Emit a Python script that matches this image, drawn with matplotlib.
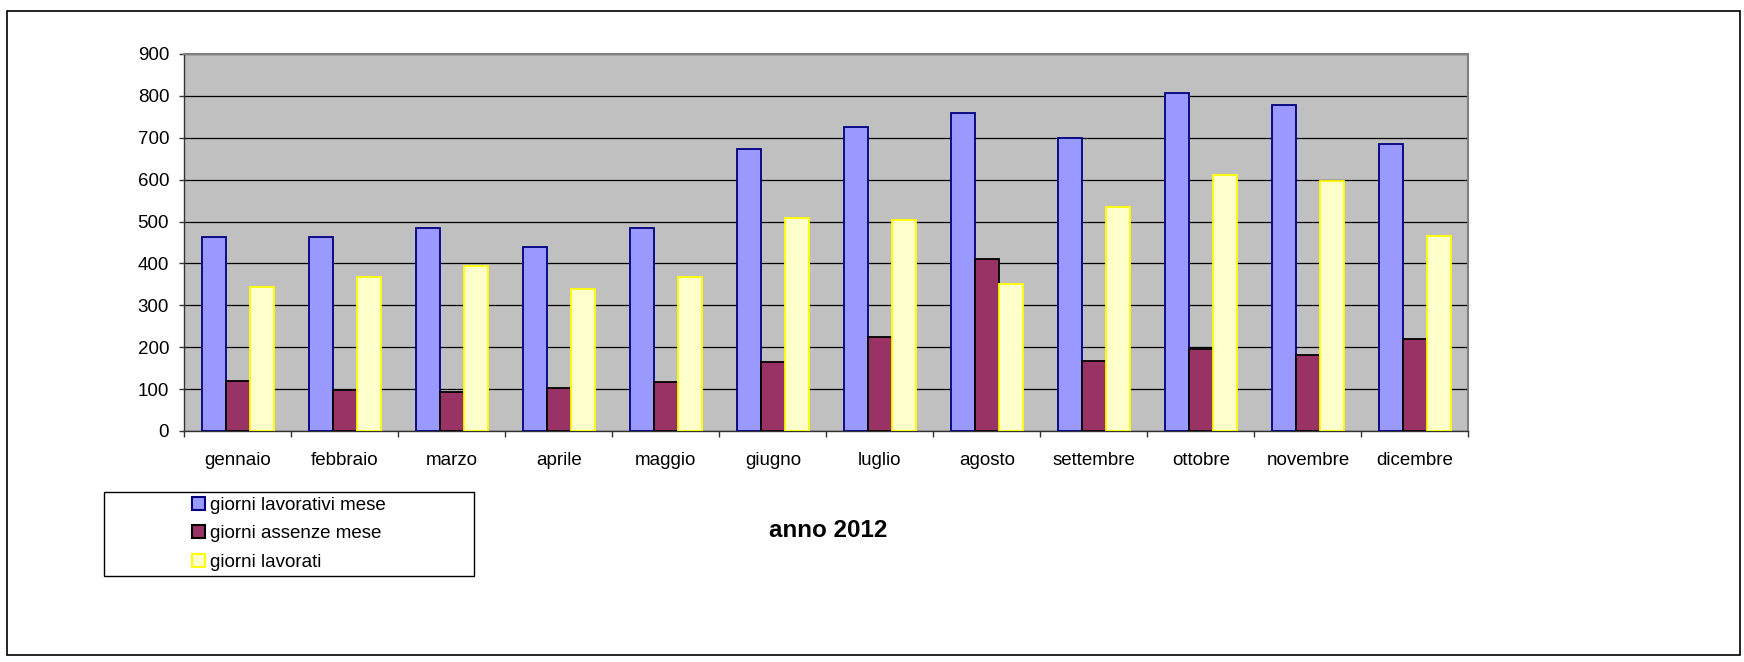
import numpy as np
import matplotlib
matplotlib.use("Agg")
import matplotlib.pyplot as plt
from matplotlib.patches import Rectangle

plt.rcParams['font.family'] = ['Liberation Sans', 'DejaVu Sans']

# dati
mesi = ["gennaio", "febbraio", "marzo", "aprile", "maggio", "giugno",
        "luglio", "agosto", "settembre", "ottobre", "novembre", "dicembre"]
giorni_lavorativi = [463, 463, 484, 440, 484, 672, 726, 759, 700, 806, 777, 684]
giorni_assenze = [120, 97, 93, 102, 118, 165, 225, 411, 168, 195, 181, 220]
giorni_lavorati = [343, 367, 393, 339, 367, 509, 503, 350, 534, 611, 596, 466]
y_ticks = [0, 100, 200, 300, 400, 500, 600, 700, 800, 900]

serie = [
    ("giorni lavorativi mese", giorni_lavorativi, "#9999FF", "#000080"),
    ("giorni assenze mese", giorni_assenze, "#993366", "#000000"),
    ("giorni lavorati", giorni_lavorati, "#FFFFCC", "#FFFF00"),
]

fig = plt.figure(figsize=(17.44, 6.62), dpi=100)
ax = fig.add_axes([0.1057, 0.349, 0.7363, 0.5695])
ax.set_facecolor("#C0C0C0")

x = np.arange(len(mesi))
w = 1 / 4.5
handles = []
for i, (nome, valori, fc, ec) in enumerate(serie):
    ax.bar(x + (i - 1) * w, valori, width=w, color=fc, edgecolor=ec,
           linewidth=1.3, zorder=3)
    handles.append(Rectangle((0, 0), 1, 1, facecolor=fc, edgecolor=ec,
                             linewidth=1.5, label=nome))

ax.set_xlim(-0.5, len(mesi) - 0.5)
ax.set_ylim(0, 900)
ax.set_yticks(y_ticks)
ax.set_yticklabels([str(v) for v in y_ticks], fontsize=13.5)
ax.yaxis.grid(True, color="black", linewidth=0.9, zorder=1)
ax.set_axisbelow(True)

ax.set_xticks(x)
ax.set_xticklabels(mesi, fontsize=13.5)
ax.set_xticks(np.arange(len(mesi) + 1) - 0.5, minor=True)
ax.tick_params(axis="x", which="major", length=0, pad=15)
ax.tick_params(axis="x", which="minor", length=4.3, width=1, color="#333333")
ax.tick_params(axis="y", length=3.9, width=1, pad=7, color="#333333")

for s in ["top", "right"]:
    ax.spines[s].set_color("#808080")
    ax.spines[s].set_linewidth(1.5)
ax.spines["left"].set_color("#333333")
ax.spines["bottom"].set_color("#333333")
ax.spines["left"].set_linewidth(1)
ax.spines["bottom"].set_linewidth(1)

# legenda con cornice
fig.patches.append(Rectangle((0.0598, 0.130), 0.2118, 0.127, transform=fig.transFigure,
                             facecolor="white", edgecolor="black", linewidth=1, zorder=1))
fig.legend(handles=handles, loc="center", bbox_to_anchor=(0.1657, 0.1935),
           frameon=False, fontsize=13.5, handlelength=0.67, handleheight=0.67,
           handletextpad=0.25, labelspacing=0.62, borderpad=0)

fig.text(0.475, 0.198, "anno 2012", ha="center", va="center",
         fontsize=17.4, fontweight="bold")

# bordo esterno
fig.patches.append(Rectangle((0.0041, 0.0106), 0.9936, 0.9731, transform=fig.transFigure,
                             facecolor="none", edgecolor="black", linewidth=1.2, zorder=0))

fig.savefig("out.png", dpi=100)
